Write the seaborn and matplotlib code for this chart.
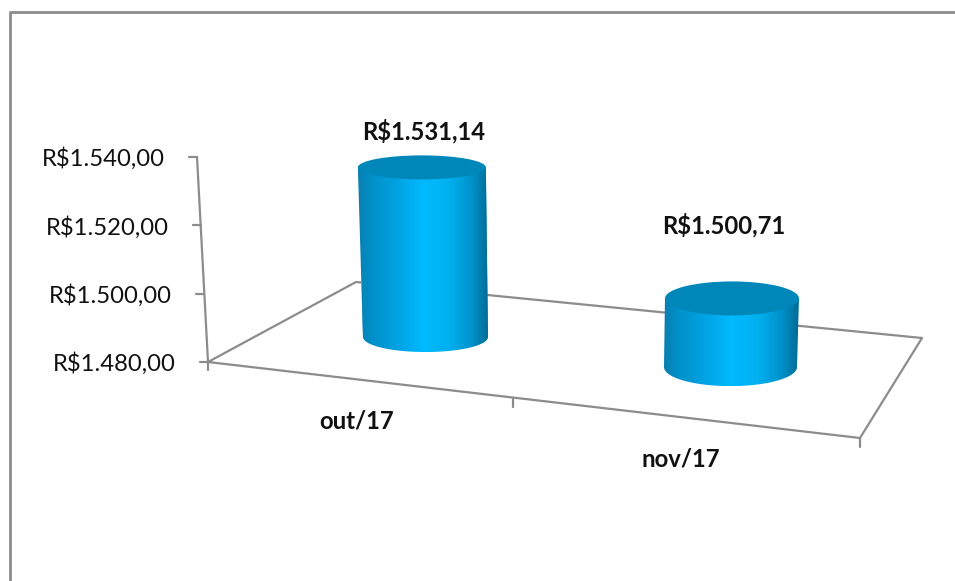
import numpy as np
import matplotlib
matplotlib.use('Agg')
import matplotlib.pyplot as plt
from matplotlib.colors import LinearSegmentedColormap
from matplotlib.lines import Line2D
from matplotlib.patches import Ellipse, PathPatch
from matplotlib.path import Path
from matplotlib.transforms import Affine2D
import seaborn as sns

# data
months = ['out/17', 'nov/17']
prices = [1531.14, 1500.71]
price_labels = ['R$1.531,14', 'R$1.500,71']
axis_ticks = [1480, 1500, 1520, 1540]
axis_labels = ['R$1.480,00', 'R$1.500,00', 'R$1.520,00', 'R$1.540,00']

# fake 3d geometry, everything else hangs off these
W, H = 955, 581
PX_PER_CAT = 305.0
PX_PER_UNIT = 3.42
CAT0_X = 425.5
BASE_Y = 362.0
DEPTH = 0.97
FONT_SIZE = 17.2
base_lift = [7.3, -1.5]
rx_top = [64.0, 67.0]
rx_bot = [62.5, 66.5]
ry_top = [12.0, 17.0]
ry_bot = [15.0, 19.0]
label_offset = [(2, 36), (-8, 73)]
month_offset = [(-69, -59), (-50, -97)]

sns.set_theme(style='white')
plt.rcParams['font.family'] = ['Lato', 'DejaVu Sans']

fig = plt.figure(figsize=(W / 100, H / 100), dpi=100)
ax = fig.add_axes([0, 0, 1, 1])

heights = [(p - axis_ticks[0]) * DEPTH for p in prices]
bottoms = [axis_ticks[0] + b for b in base_lift]
sns.barplot(x=months, y=heights, bottom=bottoms, width=0.42, color='#00a0e0', ax=ax, zorder=3)

ax.set_xlim(-CAT0_X / PX_PER_CAT, (W - CAT0_X) / PX_PER_CAT)
ax.set_ylim(axis_ticks[0] - (H - BASE_Y) / PX_PER_UNIT, axis_ticks[0] + BASE_Y / PX_PER_UNIT)
ax.set_axis_off()

# pixel coordinates for the frame, wall and floor lines
px = Affine2D().scale(1 / W, -1 / H).translate(0, 1) + fig.transFigure


def line(xs, ys, lw=1.6, color='#8c8c8c', z=1):
    ax.add_line(Line2D(xs, ys, transform=px, lw=lw, color=color, zorder=z, clip_on=False))


# chart border, no right or bottom side in the picture
line([10, 10, W], [H, 11.5, 11.5], lw=2.0)

# wall axis
wall_top = (197, 157)
wall_bot = (208, 362)
line([wall_top[0], wall_bot[0]], [wall_top[1], wall_bot[1]])
line([wall_bot[0], wall_bot[0]], [wall_bot[1], 370])
for t, lab in zip(axis_ticks, axis_labels):
    y_px = BASE_Y - (t - axis_ticks[0]) * PX_PER_UNIT
    x_px = wall_bot[0] - (BASE_Y - y_px) * (wall_bot[0] - wall_top[0]) / (wall_bot[1] - wall_top[1])
    line([x_px - 8, x_px], [y_px, y_px])
    ax.text(x_px - 32, y_px + 2, lab, transform=px, ha='right', va='center', fontsize=FONT_SIZE, color='#111111')

# floor
line([208, 356, 922, 860, 208], [362, 282, 338, 438, 362])
line([513, 513], [398, 407])
line([860, 860], [438, 447])

side_cmap = LinearSegmentedColormap.from_list(
    'side', [(0, '#0a7fb0'), (0.1, '#0090c8'), (0.35, '#00a8ea'), (0.5, '#00baff'),
             (0.7, '#00b0f0'), (0.88, '#0090c8'), (1, '#006a94')])
gradient = np.linspace(0, 1, 256).reshape(1, -1)

for i, bar in enumerate(ax.patches):
    cx = bar.get_x() + bar.get_width() / 2
    y0 = bar.get_y()
    h = bar.get_height()
    y1 = y0 + h
    # side edges lean towards the middle of the floor
    cx_top = cx + (cx - 0.5) * 0.00048 * h
    a_top = rx_top[i] / PX_PER_CAT
    a_bot = rx_bot[i] / PX_PER_CAT
    b_top = ry_top[i] / PX_PER_UNIT
    b_bot = ry_bot[i] / PX_PER_UNIT

    t = np.linspace(np.pi, 2 * np.pi, 60)
    xs = np.r_[cx_top - a_top, cx + a_bot * np.cos(t), cx_top + a_top]
    ys = np.r_[y1, y0 + b_bot * np.sin(t), y1]
    body = PathPatch(Path(np.c_[xs, ys]), transform=ax.transData, facecolor='none', edgecolor='none', zorder=4)
    ax.add_patch(body)
    bar.set_clip_path(body)

    img = ax.imshow(gradient, extent=[min(xs), max(xs), min(ys), max(ys)], aspect='auto',
                    cmap=side_cmap, zorder=4, interpolation='bilinear')
    img.set_clip_path(body)

    ax.add_patch(Ellipse((cx_top, y1), 2 * a_top, 2 * b_top, facecolor='#0087ba', edgecolor='none', zorder=5))

    ax.annotate(price_labels[i], xy=(cx_top, y1), xytext=label_offset[i], textcoords='offset pixels',
                ha='center', va='center', fontsize=FONT_SIZE, fontweight='bold', color='#111111', zorder=6)
    ax.annotate(months[i], xy=(i, axis_ticks[0]), xytext=month_offset[i], textcoords='offset pixels',
                ha='center', va='center', fontsize=FONT_SIZE, fontweight='bold', color='#111111', zorder=6)

# imshow can move the limits
ax.set_xlim(-CAT0_X / PX_PER_CAT, (W - CAT0_X) / PX_PER_CAT)
ax.set_ylim(axis_ticks[0] - (H - BASE_Y) / PX_PER_UNIT, axis_ticks[0] + BASE_Y / PX_PER_UNIT)

fig.savefig('out.png', dpi=100)
